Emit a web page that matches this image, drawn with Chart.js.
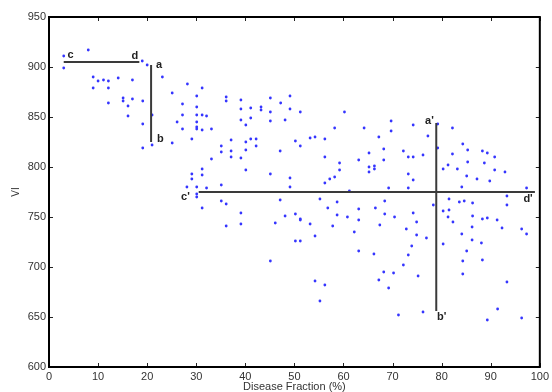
<!DOCTYPE html>
<html lang="en">
<head>
  <meta charset="UTF-8" />
  <title>VI vs Disease Fraction</title>
  <script src="https://cdn.jsdelivr.net/npm/chart.js"></script>
  <style>
    body {
      margin: 0;
      background-color: #ffffff;
    }
    #grafico {
      display: block;
    }
  </style>
</head>
<body>

<canvas id="grafico" width="552" height="392"></canvas>

<script>
// scatter samples: disease fraction (%) and VI value
const diseaseFraction = [
  3.0, 8.0, 3.0, 19.0, 20.0, 9.0, 10.0, 11.1, 12.1, 14.1, 17.0, 9.0, 12.1, 23.1, 28.2, 31.2, 25.1,
  15.1, 15.1, 17.0, 19.1, 12.1, 16.1, 30.1, 36.1, 36.1, 27.2, 30.1, 16.1, 21.0, 27.2, 30.1, 31.2,
  32.1, 26.1, 30.1, 30.1, 30.1, 19.1, 27.2, 31.2, 33.1, 29.1, 25.1, 19.1, 21.0, 37.1, 35.1, 35.1,
  37.1, 37.1, 33.1, 31.2, 29.1, 31.2, 29.1, 28.1, 30.1, 32.1, 35.1, 30.1, 30.1, 35.1, 36.1, 31.2,
  36.1,
  39.1, 45.1, 49.1, 47.2, 39.1, 41.1, 43.2, 43.2, 45.1, 49.1, 51.2, 60.2, 39.1, 41.1, 40.1, 45.1,
  48.1, 69.7, 69.7, 64.2, 58.2, 67.2, 41.1, 42.2, 40.1, 50.2, 53.2, 54.2, 56.2, 51.2, 42.2, 40.1,
  47.1, 68.2, 72.2, 65.2, 39.1, 56.2, 73.2, 63.1, 68.2, 59.2, 65.2, 66.3, 66.3, 65.2, 59.2, 40.1,
  45.1, 58.2, 57.2, 49.1, 56.2, 49.1, 69.2, 73.2, 61.2, 47.1, 55.2, 58.7, 68.4, 56.8, 66.5, 39.1,
  50.2, 48.1, 58.7, 60.8, 63.1, 63.1, 68.4, 70.4, 51.2, 51.2, 39.1, 46.1, 53.2, 57.8, 67.4, 62.2,
  72.8, 54.2, 50.2, 51.2, 63.1, 66.2, 73.2, 45.1, 72.2, 68.2, 70.2, 67.2, 54.2, 56.2, 69.2, 55.2,
  71.2,
  74.2, 79.2, 82.2, 77.2, 79.2, 74.2, 76.2, 84.3, 85.3, 82.2, 88.3, 89.3, 90.8, 85.3, 88.7, 81.3,
  80.3, 83.2, 90.8, 92.9, 73.2, 74.2, 85.1, 87.2, 89.8, 84.1, 97.3, 93.3, 81.5, 83.6, 84.6, 86.3,
  78.3, 93.3, 80.3, 81.5, 74.2, 81.3, 86.3, 88.3, 89.3, 91.3, 74.9, 82.3, 86.2, 92.3, 96.3, 97.3,
  74.9, 76.9, 84.1, 86.2, 88.1, 80.3, 73.9, 85.1, 88.3, 84.3, 84.3, 75.2, 93.3, 91.4, 76.2, 89.3,
  96.3
];
const viValues = [
  911, 917, 899, 906, 902, 890, 886, 887, 886, 889, 887, 879, 879, 890, 883, 879, 874,
  869, 866, 868, 866, 864, 861, 871, 870, 866, 863, 860, 851, 852, 852, 852, 852,
  851, 845, 845, 840, 838, 843, 838, 837, 838, 828, 824, 819, 822, 827, 821, 815,
  816, 810, 808, 798, 793, 792, 788, 780, 780, 779, 782, 773, 770, 766, 763, 759,
  741,
  867, 869, 871, 864, 858, 859, 860, 857, 855, 858, 855, 855, 847, 849, 842, 846,
  847, 846, 836, 839, 839, 830, 828, 828, 825, 826, 829, 830, 828, 821, 821, 817,
  816, 818, 816, 814, 809, 810, 810, 807, 807, 804, 800, 801, 798, 795, 797, 797,
  793, 790, 788, 789, 784, 780, 779, 779, 776, 767, 768, 765, 766, 759, 759, 754,
  753, 751, 752, 750, 758, 747, 753, 750, 748, 747, 743, 744, 743, 741, 742, 735,
  738, 731, 726, 726, 716, 713, 712, 706, 702, 695, 694, 687, 686, 682, 679, 666,
  652,
  842, 843, 839, 831, 819, 810, 812, 823, 817, 813, 816, 814, 810, 805, 804, 802,
  798, 798, 797, 795, 793, 787, 791, 788, 786, 780, 779, 771, 768, 765, 766, 764,
  762, 762, 756, 757, 754, 750, 751, 748, 749, 747, 745, 745, 740, 739, 738, 733,
  732, 729, 733, 727, 724, 723, 721, 716, 707, 706, 693, 691, 685, 658, 655, 647,
  649
];

// marked segments (horizontal c-d, c'-d'; vertical a-b, a'-b')
const segX = [[3.0, 18.4], [20.8, 20.8], [30.5, 99.0], [78.9, 78.9]];
const segY = [[905, 905], [902, 825], [775, 775], [844, 656]];

// segment end labels
const labelText = ['c', 'd', 'a', 'b', "c'", "d'", "a'", "b'"];
const labelX = [4.4, 17.5, 22.4, 22.7, 27.8, 97.6, 77.5, 80.0];
const labelY = [912, 911, 902, 828, 770, 768, 846, 650];

const xTicks = [0, 10, 20, 30, 40, 50, 60, 70, 80, 90, 100];
const yTicks = [600, 650, 700, 750, 800, 850, 900, 950];

const puntos = diseaseFraction.map((x, i) => ({ x: x, y: viValues[i] }));

const datasets = [{
  type: 'scatter',
  label: 'VI',
  data: puntos,
  pointRadius: 1.4,
  pointBorderWidth: 0,
  backgroundColor: '#3535ff',
  borderColor: '#3535ff',
  order: 2
}];
segX.forEach((xs, i) => {
  datasets.push({
    type: 'line',
    data: xs.map((x, j) => ({ x: x, y: segY[i][j] })),
    borderColor: '#3a3a3a',
    borderWidth: 2,
    pointRadius: 0,
    fill: false,
    order: 1
  });
});

// box, inward ticks and the letter labels
const marcoPlugin = {
  id: 'marco',
  afterDatasetsDraw(chart) {
    const { ctx, chartArea: a, scales } = chart;
    const sx = scales.x, sy = scales.y;
    ctx.save();
    ctx.strokeStyle = '#222';
    ctx.lineWidth = 1;
    ctx.beginPath();
    xTicks.forEach(v => {
      const p = Math.round(sx.getPixelForValue(v)) + 0.5;
      ctx.moveTo(p, a.bottom); ctx.lineTo(p, a.bottom - 4);
      ctx.moveTo(p, a.top); ctx.lineTo(p, a.top + 4);
    });
    yTicks.forEach(v => {
      const p = Math.round(sy.getPixelForValue(v)) + 0.5;
      ctx.moveTo(a.left, p); ctx.lineTo(a.left + 4, p);
      ctx.moveTo(a.right, p); ctx.lineTo(a.right - 4, p);
    });
    ctx.stroke();

    ctx.strokeStyle = '#000';
    ctx.lineWidth = 2;
    ctx.strokeRect(a.left, a.top, a.right - a.left, a.bottom - a.top);

    ctx.fillStyle = '#222';
    ctx.font = 'bold 11px "Liberation Sans", Arial, sans-serif';
    ctx.textAlign = 'center';
    ctx.textBaseline = 'middle';
    labelText.forEach((t, i) => {
      ctx.fillText(t, sx.getPixelForValue(labelX[i]), sy.getPixelForValue(labelY[i]));
    });
    ctx.restore();
  }
};

const fuente = { family: '"Liberation Sans", Arial, sans-serif', size: 11 };

new Chart(document.getElementById('grafico'), {
  type: 'scatter',
  data: { datasets: datasets },
  options: {
    responsive: false,
    animation: false,
    layout: { padding: { top: 17, right: 11, left: 0, bottom: 0 } },
    plugins: {
      legend: { display: false },
      tooltip: { enabled: false }
    },
    scales: {
      x: {
        type: 'linear',
        min: 0,
        max: 100,
        afterFit: s => { s.height = 25; },
        afterBuildTicks: s => { s.ticks = xTicks.map(v => ({ value: v })); },
        grid: { display: false, drawTicks: false },
        border: { display: false },
        ticks: { color: '#333', font: fuente, padding: 3, maxRotation: 0 },
        title: {
          display: true,
          text: 'Disease Fraction (%)',
          color: '#333',
          font: { family: fuente.family, size: 11, lineHeight: 1 },
          padding: { top: 0, bottom: 0 }
        }
      },
      y: {
        type: 'linear',
        min: 600,
        max: 950,
        afterFit: s => { s.width = 49; },
        afterBuildTicks: s => { s.ticks = yTicks.map(v => ({ value: v })); },
        grid: { display: false, drawTicks: false },
        border: { display: false },
        ticks: { color: '#333', font: fuente, padding: 3 },
        title: {
          display: true,
          text: 'VI',
          color: '#333',
          font: { family: fuente.family, size: 10, lineHeight: 1 },
          padding: { top: 11, bottom: 0 }
        }
      }
    }
  },
  plugins: [marcoPlugin]
});
</script>

</body>
</html>
